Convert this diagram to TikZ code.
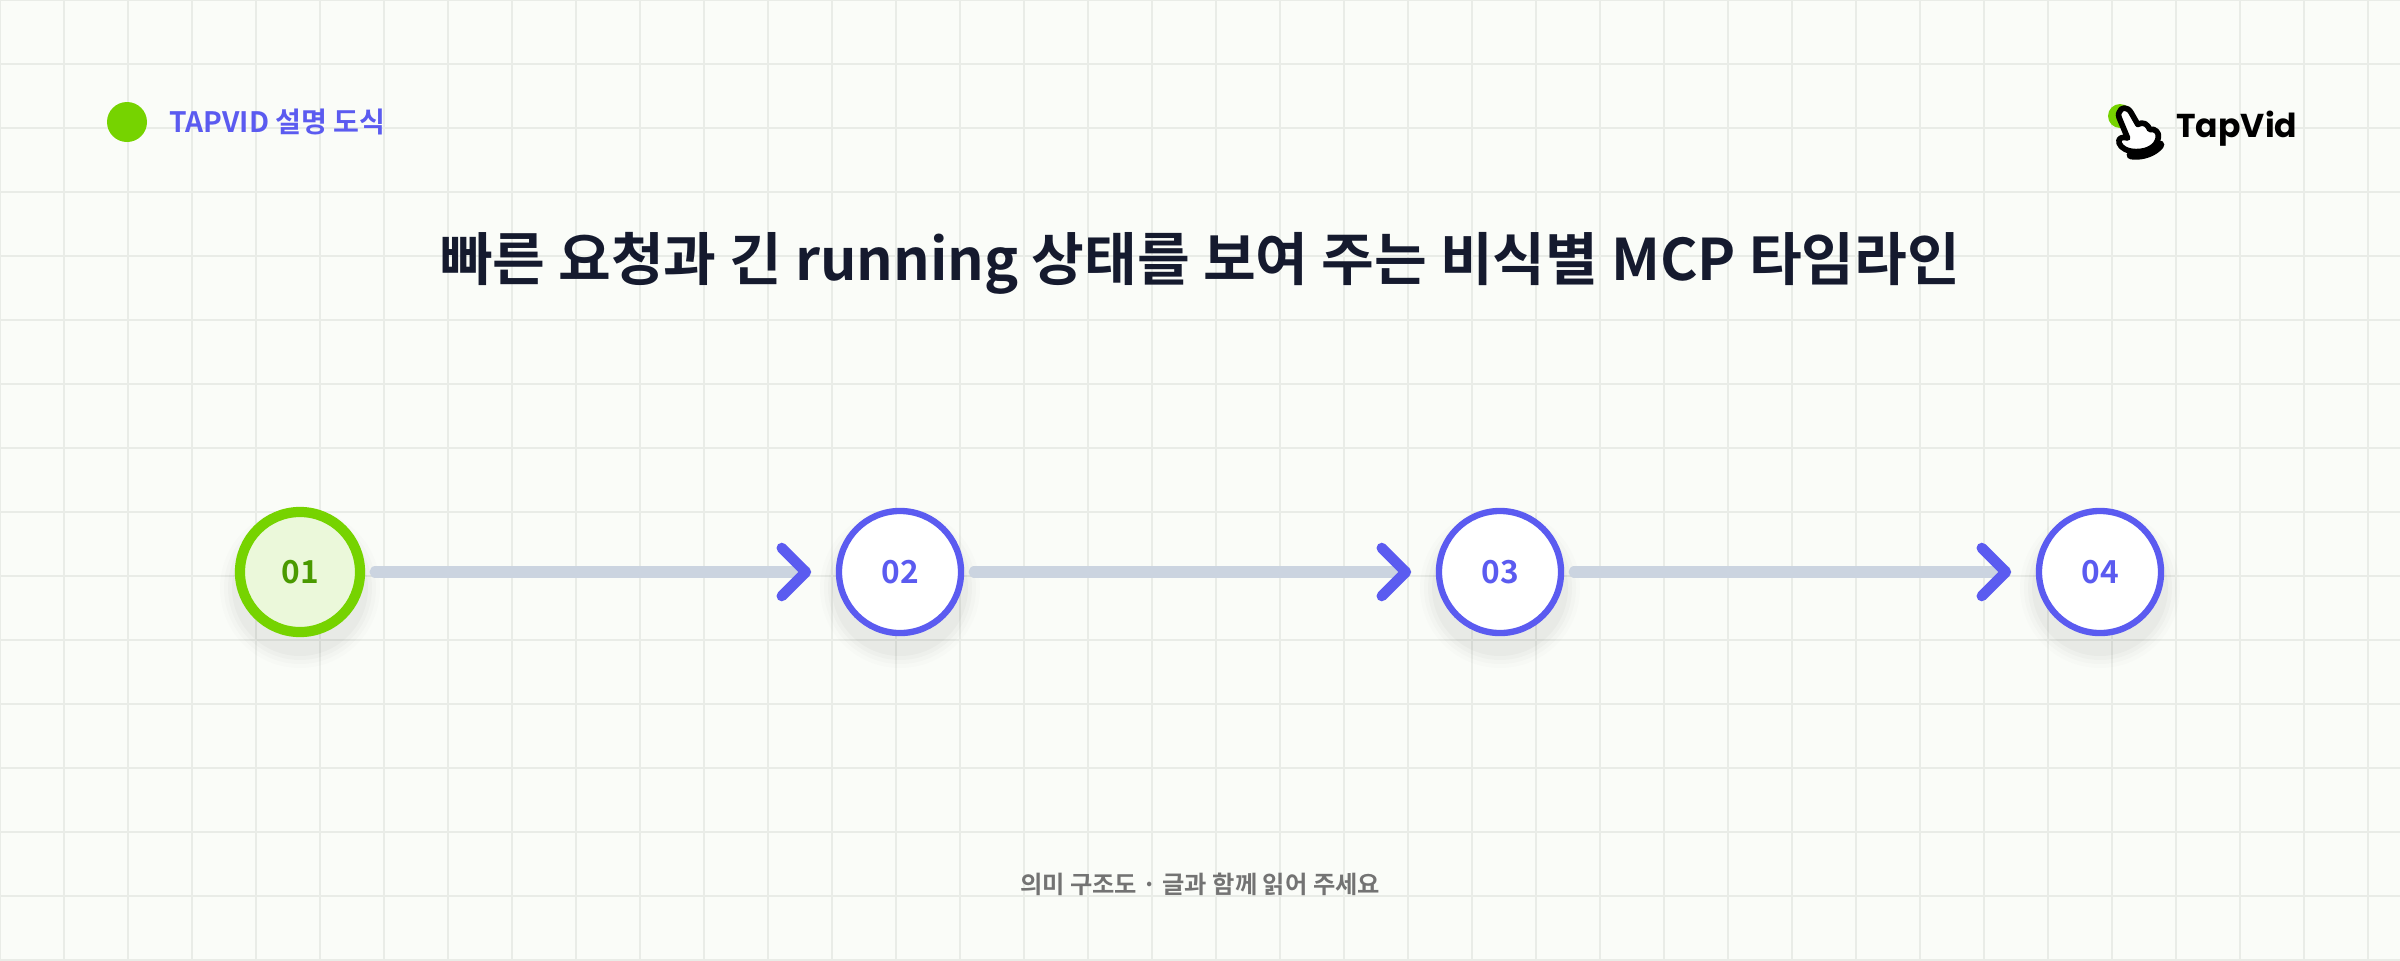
\documentclass[tikz,border=0pt]{standalone}
\usepackage{fontspec}
\setmainfont{Noto Sans CJK KR}
\newfontfamily\krb{Noto Sans CJK KR Bold}
\newfontfamily\logof{Poppins}[UprightFont=* Bold]
\usetikzlibrary{arrows.meta}
\definecolor{bgc}{HTML}{FAFCF8}
\definecolor{gridc}{HTML}{E9ECE7}
\definecolor{blu}{HTML}{5B5BF0}
\definecolor{grn}{HTML}{76D300}
\definecolor{grnd}{HTML}{4A9A00}
\definecolor{grnl}{HTML}{EBF8DA}
\definecolor{linec}{HTML}{CBD4E0}
\definecolor{ttl}{HTML}{151A2E}
\tikzset{
 x=0.01cm,y=-0.01cm,
 stepnode/.style={circle,minimum size=1.22cm,inner sep=0,line width=1.8pt,fill=white,draw=blu,text=blu,font=\krb\fontsize{9}{9}\selectfont},
 firstnode/.style={stepnode,minimum size=1.2cm,draw=grn,fill=grnl,text=grnd,line width=2.9pt},
 conn/.style={line cap=round,line width=3.2pt,draw=linec},
 chev/.style={line cap=round,line join=round,line width=3pt,draw=blu},
}
\begin{document}
\begin{tikzpicture}
\fill[bgc] (0,0) rectangle (2400,960);
\useasboundingbox (0,0) rectangle (2400,960);
\foreach \i in {0,64,...,2400} \draw[gridc,line width=0.4pt] (\i,0)--(\i,960);
\foreach \i in {0,64,...,960} \draw[gridc,line width=0.4pt] (0,\i)--(2400,\i);
% header
\fill[grn] (127,122) circle (20);
\node[anchor=west,text=blu,font=\krb\fontsize{8}{8}\selectfont] (tag) at (157,122) {TAPVID 설명 도식};
% logo
\fill[grn] (2120,116) circle (12);
\begin{scope}[shift={(2114,104)},scale=0.85]
\draw[line width=1.6pt,fill=white,line join=round] (6,10) .. controls (8,3) and (16,3) .. (20,10) -- (28,24) .. controls (34,20) and (40,24) .. (42,30) .. controls (48,28) and (54,34) .. (52,40) .. controls (50,50) and (40,56) .. (26,56) .. controls (16,56) and (8,52) .. (6,46) .. controls (4,40) and (10,38) .. (16,40) -- (6,16) .. controls (5,13) and (5,12) .. (6,10) -- cycle;
\draw[line width=2.5pt,line cap=round] (20,60) .. controls (34,62) and (48,56) .. (54,48);
\end{scope}
\node[anchor=west,font=\logof\fontsize{9.4}{12}\selectfont] (logo) at (2164,129) {TapVid};
% title
\node[text=ttl,font=\krb\fontsize{16.3}{18}\selectfont] (title) at (1200,263) {빠른 요청과 긴 running 상태를 보여 주는 비식별 MCP 타임라인};
% shadows
\foreach \cx in {300,900,1500,2100}{
 \foreach \r/\o in {80/0.012,76/0.015,72/0.02,68/0.025}{\fill[black,opacity=\o] (\cx,588) circle (\r);}
}
\node[firstnode] (n1) at (300,572) {01};
\node[stepnode] (n2) at (900,572) {02};
\node[stepnode] (n3) at (1500,572) {03};
\node[stepnode] (n4) at (2100,572) {04};
\foreach \a/\b in {n1/n2,n2/n3,n3/n4}{
 \coordinate (t) at ([xshift=-0.3cm]\b.west);
 \draw[conn] ([xshift=0.1cm]\a.east) -- (t);
 \draw[chev] ([xshift=-0.24cm,yshift=0.24cm]t) -- (t) -- ([xshift=-0.24cm,yshift=-0.24cm]t);
}
\node[text=black!55,font=\krb\fontsize{6.9}{7}\selectfont] (foot) at (1200,884) {의미 구조도 · 글과 함께 읽어 주세요};
\end{tikzpicture}
\end{document}
